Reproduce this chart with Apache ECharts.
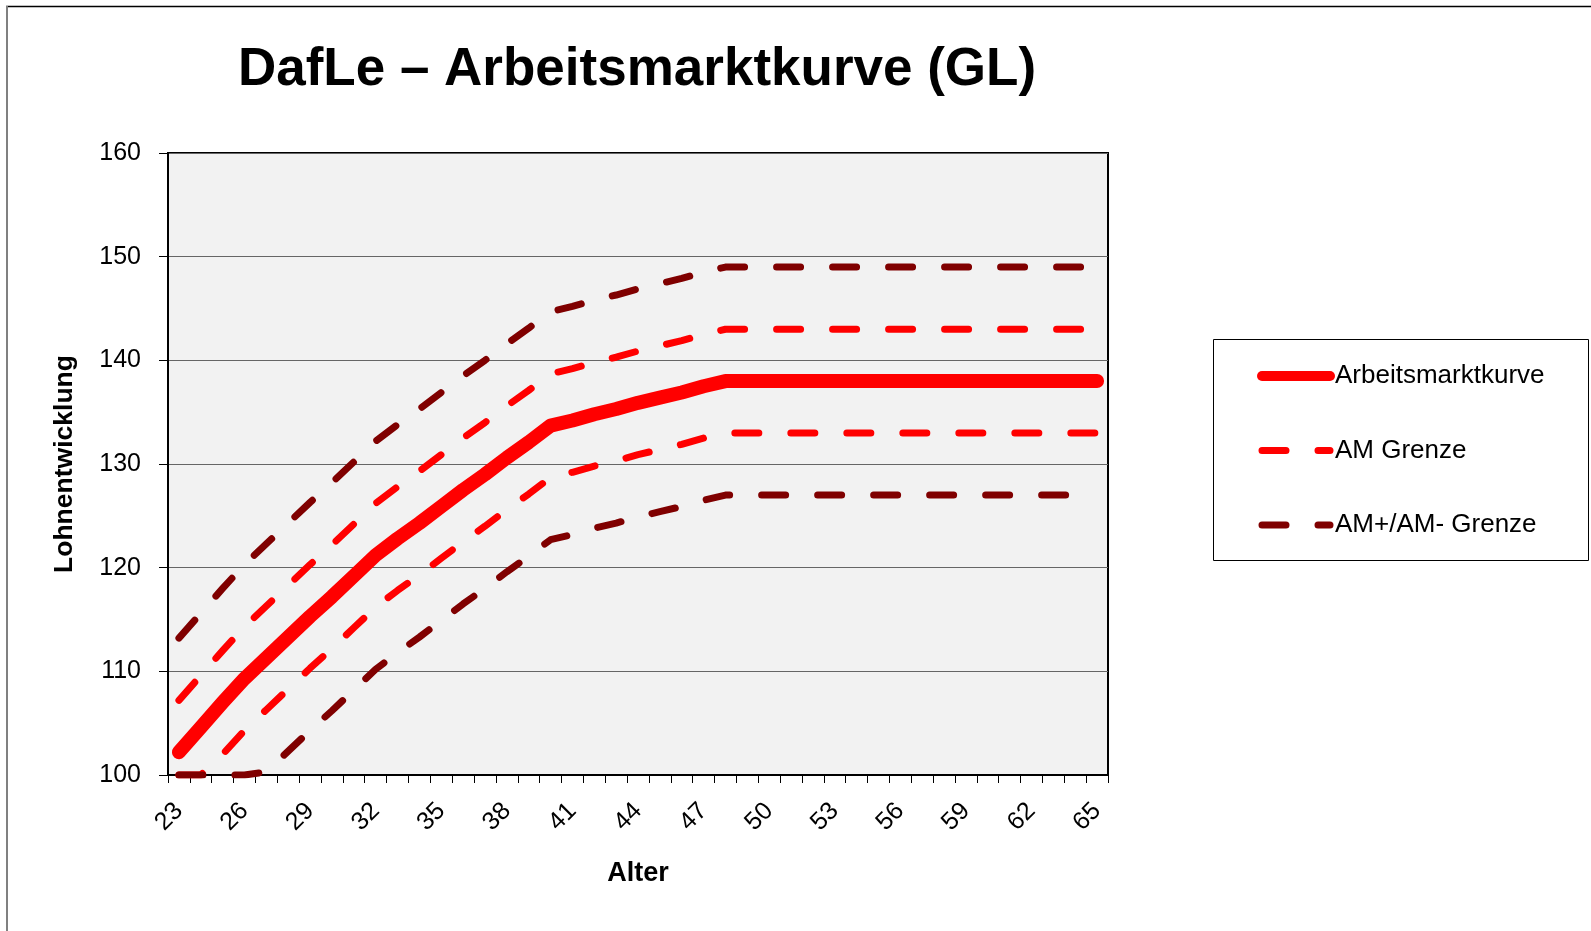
<!DOCTYPE html>
<html>
<head>
<meta charset="utf-8">
<title>DafLe – Arbeitsmarktkurve (GL)</title>
<script src="https://cdn.jsdelivr.net/npm/echarts@6/dist/echarts.min.js"></script>
<style>
  html, body { margin: 0; padding: 0; background: #ffffff; }
  #chart { width: 1591px; height: 931px; }
</style>
</head>
<body>
<div id="chart"></div>
<script>
// Age categories on the x axis
const ages = ['23','24','25','26','27','28','29','30','31','32','33','34','35','36','37','38','39','40','41','42','43','44',
              '45','46','47','48','49','50','51','52','53','54','55','56','57','58','59','60','61','62','63','64','65'];

// Labour-market curve (wage index by age)
const arbeitsmarktkurve = [102.2,104.6,107.0,109.3,111.3,113.3,115.3,117.2,119.2,121.2,122.8,124.3,125.9,127.5,129.0,130.6,
  132.1,133.7,134.2,134.8,135.3,135.9,136.4,136.9,137.5,138.0,138,138,138,138,138,138,138,138,138,138,138,138,138,138,138,138,138];

// AM band, upper and lower limit
const amGrenzeOben = [107.2,109.6,112.0,114.3,116.3,118.3,120.3,122.2,124.2,126.2,127.8,129.3,130.9,132.5,134.0,135.6,
  137.1,138.7,139.2,139.8,140.3,140.9,141.4,141.9,142.5,143.0,143,143,143,143,143,143,143,143,143,143,143,143,143,143,143,143,143];
const amGrenzeUnten = [100,100,102.0,104.3,106.3,108.3,110.3,112.2,114.2,116.2,117.8,119.3,120.9,122.5,124.0,125.6,
  127.1,128.7,129.2,129.8,130.3,130.9,131.4,131.9,132.5,133.0,133,133,133,133,133,133,133,133,133,133,133,133,133,133,133,133,133];

// AM+/AM- band, upper and lower limit
const amPlusGrenze = [113.2,115.6,118.0,120.3,122.3,124.3,126.3,128.2,130.2,132.2,133.8,135.3,136.9,138.5,140.0,141.6,
  143.1,144.7,145.2,145.8,146.3,146.9,147.4,147.9,148.5,149.0,149,149,149,149,149,149,149,149,149,149,149,149,149,149,149,149,149];
const amMinusGrenze = [100,100,100,100,100.3,102.3,104.3,106.2,108.2,110.2,111.8,113.3,114.9,116.5,118.0,119.6,
  121.1,122.7,123.2,123.8,124.3,124.9,125.4,125.9,126.5,127.0,127,127,127,127,127,127,127,127,127,127,127,127,127,127,127,127,127];

// Y axis range
const yMin = 100, yMax = 160, yStep = 10;

const FONT = '"Liberation Sans", Arial, Helvetica, sans-serif';
const RED = '#ff0000';
const DARK = '#800000';
const DASH = [24, 32];

const chart = echarts.init(document.getElementById('chart'), null, { renderer: 'canvas' });

function lineSeries(name, data, color, width, dashed, z) {
  return {
    name: name,
    type: 'line',
    data: data,
    symbol: 'none',
    smooth: false,
    z: z,
    clip: true,
    animation: false,
    itemStyle: { color: color },
    lineStyle: {
      color: color,
      width: width,
      type: dashed ? DASH : 'solid',
      cap: 'round',
      join: 'round'
    },
    emphasis: { disabled: true }
  };
}

chart.setOption({
  animation: false,
  backgroundColor: '#ffffff',
  title: {
    text: 'DafLe – Arbeitsmarktkurve (GL)',
    left: 632,
    top: 39,
    textAlign: 'center',
    textStyle: { fontFamily: FONT, fontSize: 53, fontWeight: 'bold', color: '#000' }
  },
  grid: {
    left: 168, top: 153, width: 940, height: 622,
    show: true,
    backgroundColor: '#f2f2f2',
    borderColor: '#000',
    borderWidth: 2,
    containLabel: false
  },
  legend: {
    orient: 'vertical',
    left: 1252,
    top: 358,
    itemWidth: 68,
    itemHeight: 26,
    itemGap: 48.5,
    selectedMode: false,
    textStyle: { fontFamily: FONT, fontSize: 26, color: '#000', lineHeight: 26 },
    data: [
      { name: 'Arbeitsmarktkurve', lineStyle: { width: 10, cap: 'round' }, itemStyle: { opacity: 0 } },
      { name: 'AM Grenze', lineStyle: { width: 7, type: DASH, cap: 'round' }, itemStyle: { opacity: 0 } },
      { name: 'AM+/AM- Grenze', lineStyle: { width: 7, type: DASH, cap: 'round' }, itemStyle: { opacity: 0 } }
    ]
  },
  xAxis: {
    type: 'category',
    data: ages,
    boundaryGap: true,
    name: 'Alter',
    nameLocation: 'middle',
    nameGap: 85,
    nameTextStyle: { fontFamily: FONT, fontSize: 27, fontWeight: 'bold', color: '#000' },
    axisLine: { show: true, lineStyle: { color: '#000', width: 2 } },
    axisTick: { show: true, interval: 0, length: 8, lineStyle: { color: '#000', width: 1 } },
    axisLabel: {
      interval: 2,
      rotate: 45,
      margin: 32,
      fontFamily: FONT,
      fontSize: 25,
      color: '#000'
    },
    splitLine: { show: false }
  },
  yAxis: {
    type: 'value',
    min: yMin,
    max: yMax,
    interval: yStep,
    name: 'Lohnentwicklung',
    nameLocation: 'middle',
    nameGap: 90,
    nameTextStyle: { fontFamily: FONT, fontSize: 26.5, fontWeight: 'bold', color: '#000' },
    axisLine: { show: true, lineStyle: { color: '#000', width: 2 } },
    axisTick: { show: true, length: 9, lineStyle: { color: '#000', width: 1 } },
    axisLabel: { margin: 27, fontFamily: FONT, fontSize: 25, color: '#000' },
    splitLine: { show: true, lineStyle: { color: '#666666', width: 1 } }
  },
  series: [
    lineSeries('Arbeitsmarktkurve', arbeitsmarktkurve, RED, 14, false, 5),
    lineSeries('AM Grenze', amGrenzeOben, RED, 7, true, 3),
    lineSeries('AM Grenze', amGrenzeUnten, RED, 7, true, 3),
    lineSeries('AM+/AM- Grenze', amPlusGrenze, DARK, 7, true, 4),
    lineSeries('AM+/AM- Grenze', amMinusGrenze, DARK, 7, true, 4)
  ],
  graphic: [
    // outer chart frame (top and left edges)
    { type: 'line', shape: { x1: 6, y1: 6.5, x2: 1591, y2: 6.5 }, style: { stroke: '#000', lineWidth: 1.5 }, silent: true },
    { type: 'line', shape: { x1: 7, y1: 6, x2: 7, y2: 931 }, style: { stroke: '#808080', lineWidth: 2 }, silent: true },
    // legend frame
    { type: 'rect', shape: { x: 1213.5, y: 339.5, width: 375, height: 221 }, style: { fill: 'none', stroke: '#000', lineWidth: 1 }, silent: true, z: -1 }
  ]
});
</script>
</body>
</html>
